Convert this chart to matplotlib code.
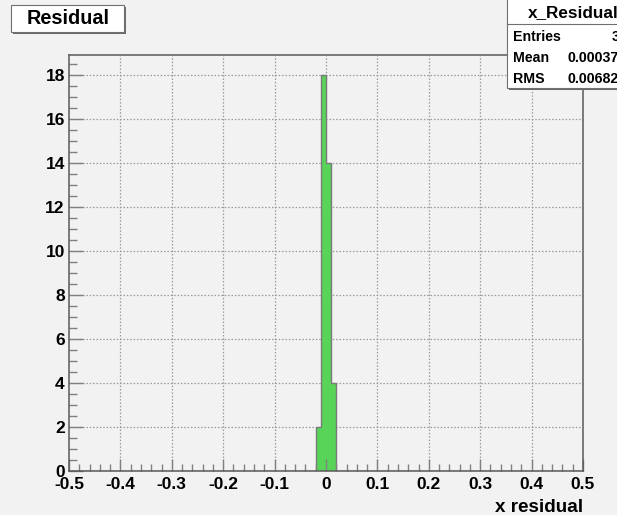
import numpy as np
import matplotlib
matplotlib.use("Agg")
import matplotlib.pyplot as plt
from matplotlib.patches import Rectangle
from matplotlib.lines import Line2D

# histogram contents: 100 bins over [-0.5, 0.5], only the centre bins are filled
bin_edges = np.linspace(-0.5, 0.5, 101)
filled_bins = [48, 49, 50, 51]
filled_counts = [2, 18, 14, 4]

x_ticks = [-0.5, -0.4, -0.3, -0.2, -0.1, 0.0, 0.1, 0.2, 0.3, 0.4, 0.5]
x_ticklabels = ["-0.5", "-0.4", "-0.3", "-0.2", "-0.1", "0", "0.1", "0.2", "0.3", "0.4", "0.5"]
y_ticks = [0, 2, 4, 6, 8, 10, 12, 14, 16, 18]
y_max = 18.9

stat_names = ["Entries", "Mean", "RMS"]
stat_values = ["38", "0.000372", "0.006823"]

W, H = 617, 515
BG = "#f2f2f2"
FONT = "Liberation Sans"

counts = np.zeros(100)
counts[filled_bins] = filled_counts

fig = plt.figure(figsize=(W / 100, H / 100), dpi=100, facecolor=BG)
ax = fig.add_axes([69 / W, 1 - 471 / H, (583 - 69) / W, (471 - 55) / H])
ax.set_facecolor(BG)

def fx(px):
    return px / W

def fy(py):
    return 1 - py / H

# dotted grid under the bars
for xt in x_ticks[1:-1]:
    ax.axvline(xt, color="#9a9a9a", lw=0.9, ls=(0, (1.2, 1.5)), zorder=0.5)
for yt in y_ticks[1:]:
    ax.axhline(yt, color="#9a9a9a", lw=0.9, ls=(0, (1.2, 1.5)), zorder=0.5)

ax.stairs(counts, bin_edges, fill=True, color="#58d458", zorder=1)
ax.stairs(counts, bin_edges, color="#7a7a7a", lw=1.0, zorder=1.2)

ax.set_xlim(-0.5, 0.5)
ax.set_ylim(0, y_max)
ax.set_xticks(x_ticks)
ax.set_xticklabels(x_ticklabels)
ax.set_yticks(y_ticks)
ax.set_xticks(np.arange(-0.5, 0.5001, 0.02), minor=True)
ax.set_yticks(np.arange(0, 18.9, 0.5), minor=True)
ax.tick_params(axis="both", which="both", direction="in", color="#808080",
               top=False, right=False, labelsize=12.5, width=1.0)
ax.tick_params(axis="x", which="major", length=9, pad=4)
ax.tick_params(axis="x", which="minor", length=4.8)
ax.tick_params(axis="y", which="major", length=10, pad=3)
ax.tick_params(axis="y", which="minor", length=5.8)
for lab in ax.get_xticklabels() + ax.get_yticklabels():
    lab.set_fontfamily(FONT)
    lab.set_fontweight("bold")
for sp in ax.spines.values():
    sp.set_color("#5a5a5a")
    sp.set_linewidth(1.1)

fig.text(fx(583), fy(512), "x residual", ha="right", va="baseline",
         fontsize=13.6, fontweight="bold", family=FONT)

# title box
fig.add_artist(Rectangle((fx(13), fy(34)), fx(113), fy(7) - fy(34), transform=fig.transFigure,
                         facecolor="#6a6a6a", edgecolor="none"))
fig.add_artist(Rectangle((fx(11), fy(32)), fx(113), fy(5) - fy(32), transform=fig.transFigure,
                         facecolor="white", edgecolor="#707070", lw=0.8))
fig.text(fx(68), fy(18.5), "Residual", ha="center", va="center",
         fontsize=14.3, fontweight="bold", family=FONT)

# statistics box
fig.add_artist(Rectangle((fx(509), fy(90)), fx(130), fy(-2) - fy(90), transform=fig.transFigure,
                         facecolor="#6a6a6a", edgecolor="none"))
fig.add_artist(Rectangle((fx(507), fy(88)), fx(130), fy(-2) - fy(88), transform=fig.transFigure,
                         facecolor="white", edgecolor="#707070", lw=0.8))
fig.add_artist(Line2D([fx(507), fx(640)], [fy(24), fy(24)], transform=fig.transFigure,
                      color="#707070", lw=0.8))
fig.text(fx(573), fy(13), "x_Residual", ha="center", va="center",
         fontsize=12.3, fontweight="bold", family=FONT)
for i, (name, val) in enumerate(zip(stat_names, stat_values)):
    yc = fy(37 + 21 * i)
    fig.text(fx(513), yc, name, ha="left", va="center",
             fontsize=10.2, fontweight="bold", family=FONT)
    fig.text(fx(627), yc, val, ha="right", va="center",
             fontsize=10.2, fontweight="bold", family=FONT)

fig.savefig("out.png", dpi=100, facecolor=BG)
